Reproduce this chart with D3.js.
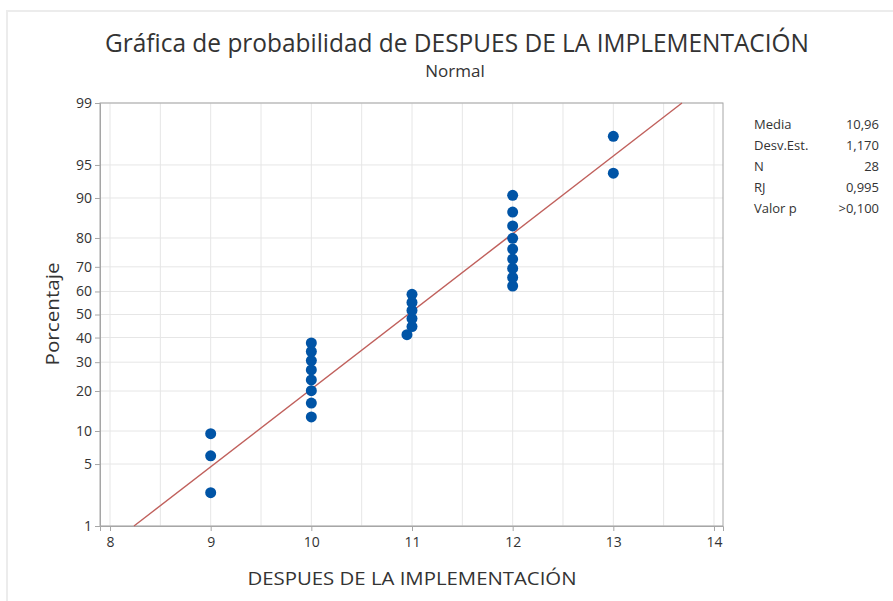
<!DOCTYPE html>
<html>
<head>
<meta charset="utf-8">
<script src="https://cdn.jsdelivr.net/npm/d3@7"></script>
<style>
  body { margin: 0; background: #fff; }
  text { font-family: "Open Sans", "Noto Sans", sans-serif; fill: #333; }
</style>
</head>
<body>
<svg id="chart" width="893" height="601"></svg>
<script>
// Werte
const xValues = [9, 9, 9,
  10, 10, 10, 10, 10, 10, 10, 10,
  10.95, 11, 11, 11, 11, 11,
  12, 12, 12, 12, 12, 12, 12, 12, 12,
  13, 13];
const pctValues = [2.5, 6.0, 9.5,
  13.0, 16.5, 20.1, 23.6, 27.1, 30.6, 34.2, 37.7,
  41.2, 44.7, 48.2, 51.8, 55.3, 58.8,
  62.3, 65.8, 69.4, 72.9, 76.4, 79.9, 83.5, 87.0, 90.5,
  94.0, 97.5];
const yTicks = [1, 5, 10, 20, 30, 40, 50, 60, 70, 80, 90, 95, 99];
const xTicks = [8, 9, 10, 11, 12, 13, 14];
const xGrid = [8, 8.5, 9, 9.5, 10, 10.5, 11, 11.5, 12, 12.5, 13, 13.5, 14];
const statLabels = ["Media", "Desv.Est.", "N", "RJ", "Valor p"];
const statValues = ["10,96", "1,170", "28", "0,995", ">0,100"];
const fitMean = 10.96, fitSd = 1.170;

// inverse Normalverteilung (Acklam)
function probit(p) {
  const a = [-39.69683028665376, 220.9460984245205, -275.9285104469687, 138.357751867269, -30.66479806614716, 2.506628277459239];
  const b = [-54.47609879822406, 161.5858368580409, -155.6989798598866, 66.80131188771972, -13.28068155288572];
  const c = [-0.007784894002430293, -0.3223964580411365, -2.400758277161838, -2.549732539343734, 4.374664141464968, 2.938163982698783];
  const d = [0.007784695709041462, 0.3224671290700398, 2.445134137142996, 3.754408661907416];
  const pl = 0.02425;
  let q, r;
  if (p < pl) {
    q = Math.sqrt(-2 * Math.log(p));
    return (((((c[0]*q+c[1])*q+c[2])*q+c[3])*q+c[4])*q+c[5]) / ((((d[0]*q+d[1])*q+d[2])*q+d[3])*q+1);
  } else if (p <= 1 - pl) {
    q = p - 0.5; r = q * q;
    return (((((a[0]*r+a[1])*r+a[2])*r+a[3])*r+a[4])*r+a[5])*q / (((((b[0]*r+b[1])*r+b[2])*r+b[3])*r+b[4])*r+1);
  } else {
    q = Math.sqrt(-2 * Math.log(1 - p));
    return -(((((c[0]*q+c[1])*q+c[2])*q+c[3])*q+c[4])*q+c[5]) / ((((d[0]*q+d[1])*q+d[2])*q+d[3])*q+1);
  }
}

const svg = d3.select("#chart");
const plot = {left: 100, right: 723, top: 103, bottom: 526};

const x = d3.scaleLinear()
  .domain([8 - 10 / 100.5, 14 + 9 / 100.5])
  .range([plot.left, plot.right]);

const zScale = d3.scaleLinear()
  .domain([probit(0.01), probit(0.99)])
  .range([plot.bottom, plot.top]);
const y = p => zScale(probit(p / 100));

// Rahmen des Fensters
svg.append("path")
  .attr("d", "M7,601 V11 H893")
  .attr("fill", "none")
  .attr("stroke", "#ececec")
  .attr("stroke-width", 2);

// Gitter
svg.append("g").selectAll("line")
  .data(xGrid)
  .join("line")
  .attr("x1", d => x(d)).attr("x2", d => x(d))
  .attr("y1", plot.top).attr("y2", plot.bottom)
  .attr("stroke", "#e6e6e6");

svg.append("g").selectAll("line")
  .data(yTicks)
  .join("line")
  .attr("x1", plot.left).attr("x2", plot.right)
  .attr("y1", d => y(d)).attr("y2", d => y(d))
  .attr("stroke", "#e6e6e6");

// Plotrahmen
svg.append("rect")
  .attr("x", plot.left).attr("y", plot.top)
  .attr("width", plot.right - plot.left)
  .attr("height", plot.bottom - plot.top)
  .attr("fill", "none")
  .attr("stroke", "#a6a6a6");

// Achsen
const xAxis = svg.append("g")
  .attr("transform", `translate(0,${plot.bottom})`)
  .call(d3.axisBottom(x).tickValues(xTicks).tickFormat(d3.format("d"))
    .tickSize(5).tickPadding(6));

const yAxis = svg.append("g")
  .attr("transform", `translate(${plot.left},0)`)
  .call(d3.axisLeft(zScale).tickValues(yTicks.map(d => probit(d / 100)))
    .tickFormat((d, i) => yTicks[i]).tickSize(5).tickPadding(3));

[xAxis, yAxis].forEach(g => {
  g.select(".domain").attr("stroke", "#a6a6a6");
  g.selectAll(".tick line").attr("stroke", "#a6a6a6");
  g.selectAll(".tick text")
    .style("font-size", "14px")
    .style("font-family", "'Open Sans', sans-serif")
    .attr("fill", "#2a2a2a");
});

// Anpassungslinie
const zEnds = zScale.domain();
svg.append("line")
  .attr("x1", x(fitMean + fitSd * zEnds[0]))
  .attr("y1", zScale(zEnds[0]))
  .attr("x2", x(fitMean + fitSd * zEnds[1]))
  .attr("y2", zScale(zEnds[1]))
  .attr("stroke", "#c0605c")
  .attr("stroke-width", 1.4);

// Punkte
svg.append("g").selectAll("circle")
  .data(xValues)
  .join("circle")
  .attr("cx", d => x(d))
  .attr("cy", (d, i) => y(pctValues[i]))
  .attr("r", 5.5)
  .attr("fill", "#0054a6");

// Titel
svg.append("text")
  .attr("x", 457).attr("y", 52)
  .attr("text-anchor", "middle")
  .attr("textLength", 704)
  .attr("lengthAdjust", "spacingAndGlyphs")
  .style("font-size", "25px")
  .style("font-weight", 500)
  .attr("fill", "#2b2b2b")
  .text("Gráfica de probabilidad de DESPUES DE LA IMPLEMENTACIÓN");

svg.append("text")
  .attr("x", 455).attr("y", 77)
  .attr("text-anchor", "middle")
  .style("font-size", "17px")
  .attr("fill", "#666")
  .text("Normal");

// Achsentitel
svg.append("text")
  .attr("x", 412).attr("y", 585)
  .attr("text-anchor", "middle")
  .attr("textLength", 329)
  .attr("lengthAdjust", "spacingAndGlyphs")
  .style("font-size", "19px")
  .text("DESPUES DE LA IMPLEMENTACIÓN");

svg.append("text")
  .attr("transform", "translate(59,314) rotate(-90)")
  .attr("text-anchor", "middle")
  .attr("textLength", 103)
  .attr("lengthAdjust", "spacingAndGlyphs")
  .style("font-size", "19px")
  .text("Porcentaje");

// Statistik-Tabelle
const stats = svg.append("g").selectAll("g")
  .data(statLabels)
  .join("g")
  .attr("transform", (d, i) => `translate(0,${129 + i * 21})`);

stats.append("text")
  .attr("x", 754)
  .style("font-size", "13px")
  .text(d => d);

stats.append("text")
  .attr("x", 879)
  .attr("text-anchor", "end")
  .style("font-size", "13px")
  .text((d, i) => statValues[i]);
</script>
</body>
</html>
